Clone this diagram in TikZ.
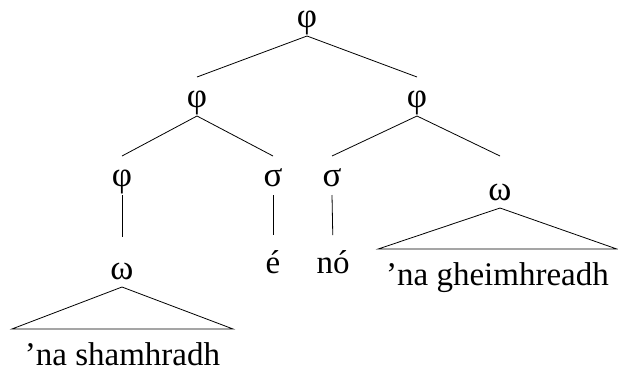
\documentclass[tikz,border=0pt]{standalone}
\usepackage{fontspec}
\setmainfont{Liberation Serif}
\begin{document}
\begin{tikzpicture}[x=1pt,y=-1pt,
  lab/.style={anchor=base, inner sep=0pt, outer sep=0pt, text height=30pt, text depth=9pt, font=\fontsize{35}{42}\selectfont},
  word/.style={anchor=base, inner sep=0pt, outer sep=0pt, text height=26pt, text depth=9pt, font=\fontsize{33}{40}\selectfont},
  leaf/.style={anchor=base, inner ysep=0pt, outer sep=0pt, text height=36pt, text depth=9pt, font=\fontsize{33}{40}\selectfont},
  edge/.style={line width=0.8pt},
  vedge/.style={line width=0.8pt, shorten >=12pt}]
\useasboundingbox (0,0) rectangle (618,373);
\node[lab] (r) at (307,27) {φ};
\node[lab] (a) at (197,107) {φ};
\node[lab] (b) at (417,107) {φ};
\node[lab] (c) at (122,186) {φ};
\node[lab] (d) at (273,186) {σ};
\node[lab] (e) at (332,186) {σ};
\node[lab, text height=44pt, text depth=8pt] (w) at (500,200) {ω};
\node[lab, text depth=8pt] (f) at (122,279) {ω};
\node[word] (g) at (273,273) {é};
\node[word] (h) at (333,273) {nó};
\node[leaf, inner xsep=13pt] (s) at (122.5,365) {’na shamhradh};
\node[leaf, inner xsep=8pt] (t) at (497.5,285) {’na gheimhreadh};
\draw[edge] (r.south) -- (a.north);
\draw[edge] (r.south) -- (b.north);
\draw[edge] (a.south) -- (c.north);
\draw[edge] (a.south) -- (d.north);
\draw[edge] (b.south) -- (e.north);
\draw[edge] (b.south) -- (w.north);
\draw[vedge] (c.south) -- (f.north);
\draw[vedge] (d.south) -- (g.north);
\draw[vedge] (e.south) -- (h.north);
\draw[edge] (f.south) -- (s.north west) -- (s.north east) -- cycle;
\draw[edge] (w.south) -- (t.north west) -- (t.north east) -- cycle;
\end{tikzpicture}
\end{document}
